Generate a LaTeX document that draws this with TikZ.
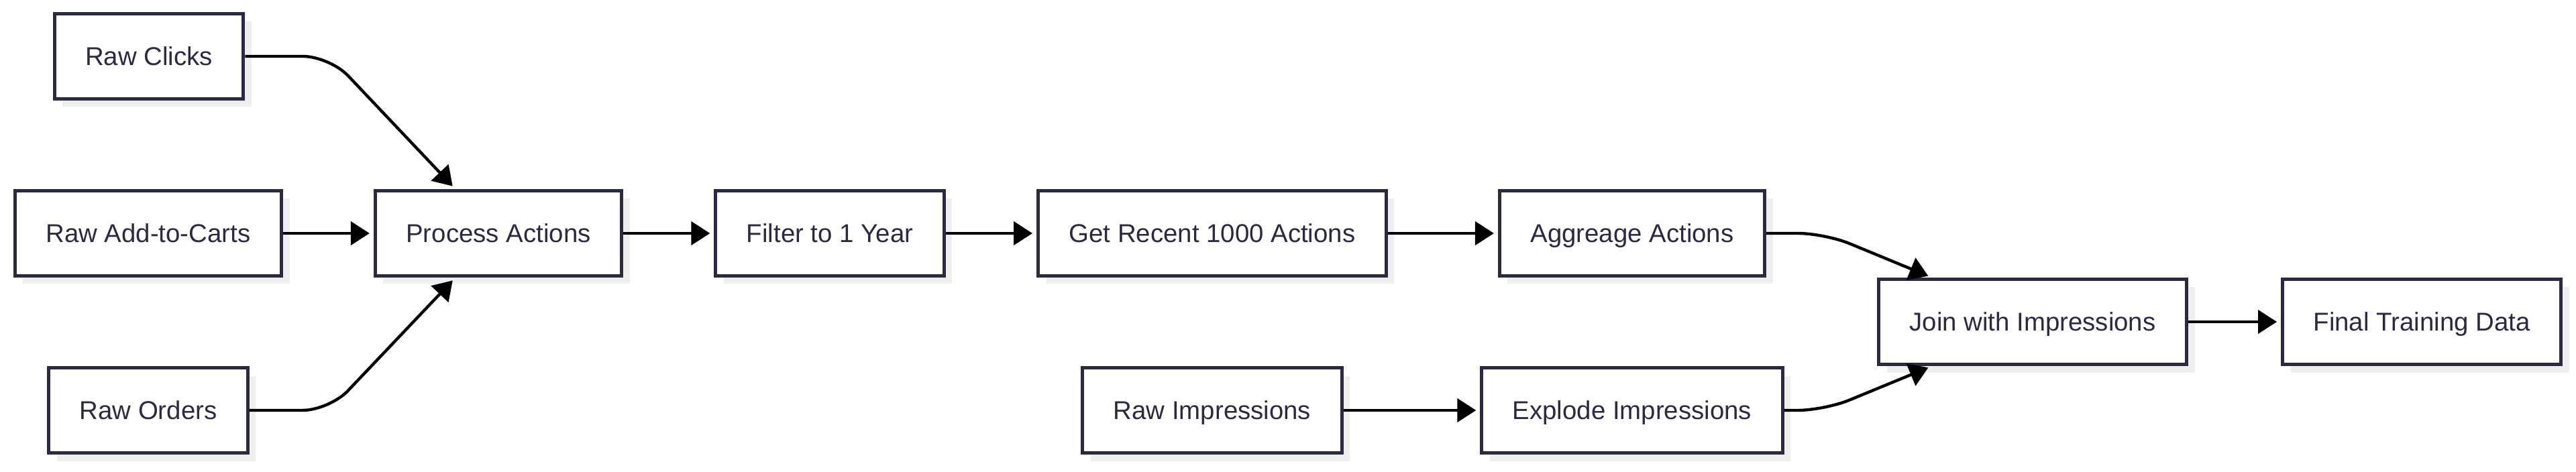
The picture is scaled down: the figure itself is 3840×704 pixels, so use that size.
\documentclass[tikz,border=0pt]{standalone}
\usepackage{fontspec}
\setmainfont{Liberation Sans}
\usetikzlibrary{arrows.meta,shadows}
\definecolor{boxline}{HTML}{2A2A40}
\definecolor{boxshade}{HTML}{EFEFEF}
\begin{document}
\begin{tikzpicture}[x=0.25pt,y=-0.25pt,
    stage/.style={draw=boxline,line width=1.25pt,fill=white,text=boxline,
      minimum height=31.75pt,inner xsep=11.5pt,text height=7pt,text depth=0.3pt,
      font=\fontsize{9.6pt}{11.5pt}\selectfont,
      drop shadow={shadow xshift=3pt,shadow yshift=-3pt,fill=boxshade,opacity=1}},
    flow/.style={line width=1.1pt,-{Triangle[length=7pt,width=8.75pt]},
      shorten >=1.5pt,rounded corners=10pt}]
    \useasboundingbox (0,0) rectangle (3840,704);
    %raw actions
    \node[stage] (clicks) at (222,84) {Raw Clicks};
    \node[stage] (carts) at (221,348) {Raw Add-to-Carts};
    \node[stage] (orders) at (221,612) {Raw Orders};
    %action pipeline
    \node[stage] (process) at (743,348) {Process Actions};
    \node[stage] (filter) at (1237,348) {Filter to 1 Year};
    \node[stage] (recent) at (1807,348) {Get Recent 1000 Actions};
    \node[stage] (aggr) at (2433,348) {Aggreage Actions};
    %impressions
    \node[stage] (impr) at (1807,612) {Raw Impressions};
    \node[stage] (explode) at (2433,612) {Explode Impressions};
    %join
    \node[stage] (join) at (3030,480) {Join with Impressions};
    \node[stage] (final) at (3610,480) {Final Training Data};
    %edges
    \draw[flow] (clicks.east) -- ++(126,0) -- ([xshift=30.5pt]process.north west);
    \draw[flow] (carts) -- (process);
    \draw[flow] (orders.east) -- ++(119,0) -- ([xshift=30.5pt]process.south west);
    \draw[flow] (process) -- (filter);
    \draw[flow] (filter) -- (recent);
    \draw[flow] (recent) -- (aggr);
    \draw[flow] (impr) -- (explode);
    \draw[flow] (aggr.east) -- ++(87,0) -- ([xshift=20.5pt]join.north west);
    \draw[flow] (explode.east) -- ++(60,0) -- ([xshift=20.5pt]join.south west);
    \draw[flow] (join) -- (final);
\end{tikzpicture}
\end{document}
